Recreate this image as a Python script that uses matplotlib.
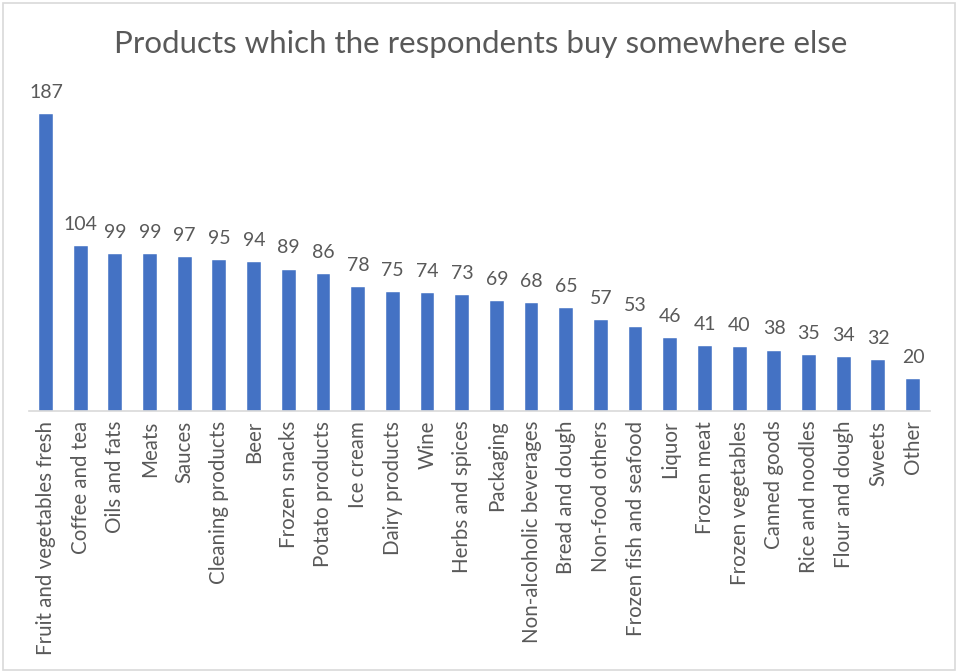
import matplotlib
matplotlib.use("Agg")
import matplotlib.pyplot as plt
from matplotlib.patches import Rectangle

categories = [
    "Fruit and vegetables fresh", "Coffee and tea", "Oils and fats", "Meats",
    "Sauces", "Cleaning products", "Beer", "Frozen snacks", "Potato products",
    "Ice cream", "Dairy products", "Wine", "Herbs and spices", "Packaging",
    "Non-alcoholic beverages", "Bread and dough", "Non-food others",
    "Frozen fish and seafood", "Liquor", "Frozen meat", "Frozen vegetables",
    "Canned goods", "Rice and noodles", "Flour and dough", "Sweets", "Other",
]
values = [187, 104, 99, 99, 97, 95, 94, 89, 86, 78, 75, 74, 73, 69, 68, 65,
          57, 53, 46, 41, 40, 38, 35, 34, 32, 20]
title = "Products which the respondents buy somewhere else"

W, H = 957, 672
fig = plt.figure(figsize=(W / 100, H / 100), dpi=100)
plt.rcParams["font.family"] = ["Lato", "DejaVu Sans"]

text_color = "#595959"
bar_color = "#4472C4"

# axes placed in pixel coordinates
left, right, bottom, top = 28.7, 930.3, 411, 93.4
ax = fig.add_axes([left / W, 1 - bottom / H, (right - left) / W, (bottom - top) / H])

x = range(len(categories))
bars = ax.bar(x, values, width=0.4, color=bar_color, edgecolor="white", linewidth=0.3)
ax.set_xlim(-0.5, len(categories) - 0.5)
ax.set_ylim(0, 200)

for xi, v in zip(x, values):
    ax.annotate(str(v), (xi, v), xytext=(0, 9.5), textcoords="offset points",
                ha="center", va="bottom", fontsize=14, color=text_color)

ax.set_xticks(list(x))
ax.set_xticklabels(categories, rotation=90, fontsize=14.8, color=text_color)
ax.tick_params(axis="x", length=0, pad=7)
ax.set_yticks([])
for s in ["left", "right", "top"]:
    ax.spines[s].set_visible(False)
ax.spines["bottom"].set_color("#D9D9D9")
ax.spines["bottom"].set_linewidth(1.2)

fig.text(481 / W, 1 - 44 / H, title, ha="center", va="center",
         fontsize=22.5, color=text_color)

# chart border
fig.patches.append(Rectangle((2.5 / W, 2.5 / H), (W - 5) / W, (H - 5) / H,
                             transform=fig.transFigure, fill=False,
                             edgecolor="#D9D9D9", linewidth=1.2))

fig.savefig("out.png", dpi=100, facecolor="white")
